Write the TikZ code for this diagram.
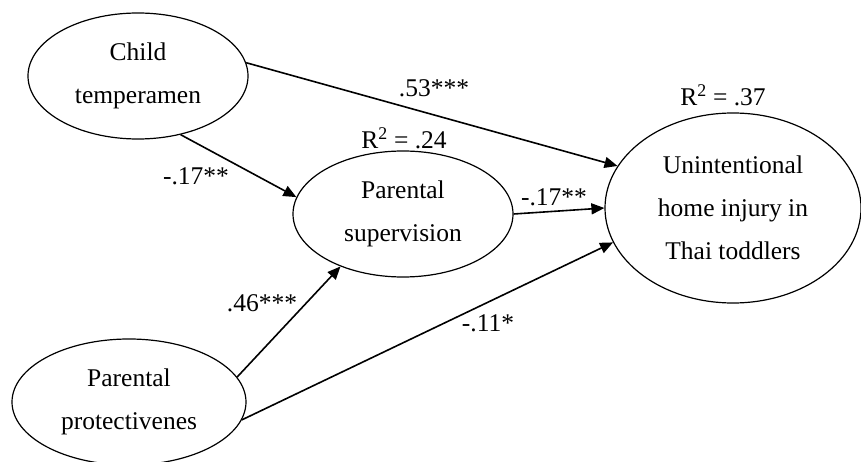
\documentclass[tikz,border=0pt]{standalone}
\usepackage{fontspec}
\setmainfont{Liberation Serif}
\usetikzlibrary{shapes.geometric,arrows.meta}
\begin{document}
\begin{tikzpicture}[x=1pt,y=-1pt,
  latent/.style={draw, ellipse, line width=1.2pt, inner sep=0pt, align=center,
                 font=\fontsize{25.5}{43}\selectfont},
  effect/.style={line width=1.6pt, -{Triangle[length=13pt,width=11pt]}},
  coef/.style={font=\fontsize{25.5}{28}\selectfont, inner sep=0pt}]
\useasboundingbox (0,0) rectangle (861,462);

% latent variables
\node[latent, minimum width=220pt, minimum height=126pt] (temp) at (138,76) {Child\\temperamen};
\node[latent, minimum width=220pt, minimum height=126pt] (sup) at (403,214) {Parental\\supervision};
\node[latent, minimum width=256pt, minimum height=190pt] (inj) at (733,208) {Unintentional\\home injury in\\Thai toddlers};
\node[latent, minimum width=234pt, minimum height=126pt] (prot) at (129,402) {Parental\\protectivenes};

% structural paths
\draw[effect] (temp.7) -- (inj.160.5);
\draw[effect] (temp.-54) -- (sup.171);
\draw[effect] (sup.0.5) -- (inj.180);
\draw[effect] (prot.13) -- (sup.220);
\draw[effect] (prot.-9) -- (inj.196.3);

% path coefficients and explained variance
\node[coef] (c1) at (434,88) {.53***};
\node[coef] (c2) at (196,176) {-.17**};
\node[coef] (c3) at (554,197) {-.17**};
\node[coef] (c4) at (262,303) {.46***};
\node[coef] (c5) at (488,323) {-.11*};
\node[coef] (r1) at (404,138) {R\textsuperscript{2} = .24};
\node[coef] (r2) at (723,95) {R\textsuperscript{2} = .37};
\end{tikzpicture}
\end{document}
